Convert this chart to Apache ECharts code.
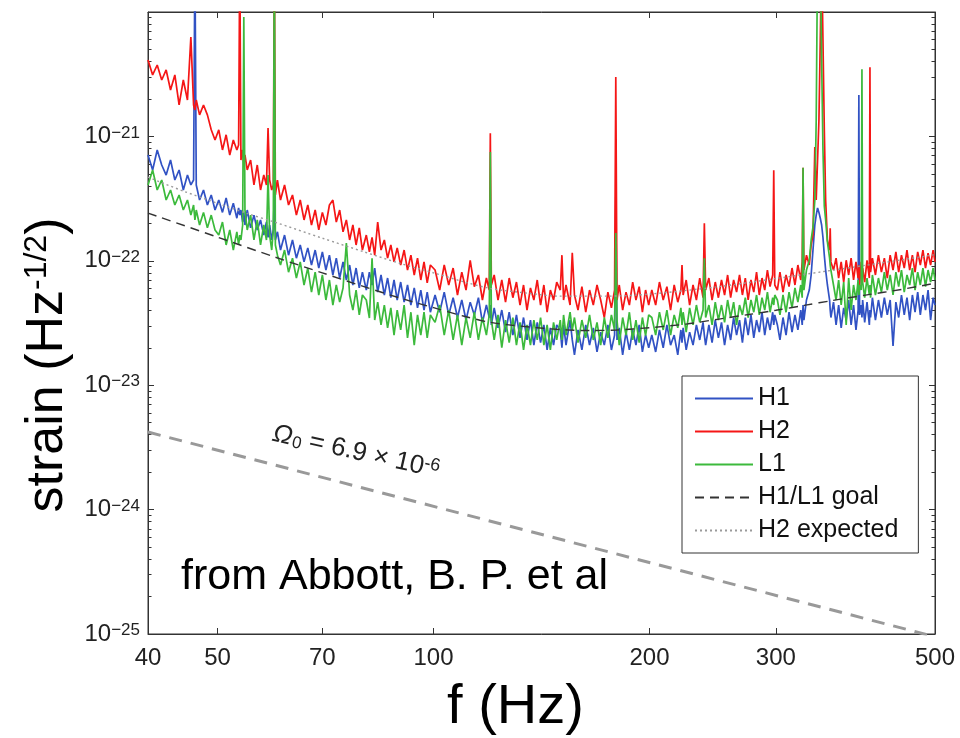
<!DOCTYPE html>
<html><head><meta charset="utf-8">
<script src="https://cdn.jsdelivr.net/npm/echarts@6/dist/echarts.min.js"></script>
<style>html,body{margin:0;padding:0;background:#fff}#c{width:960px;height:738px}</style>
</head><body><div id="c"></div>
<script>
// strain values are given in units of 1e-22 Hz^-1/2
const UNIT = 1e-22;

const FREQ = [
  40.0, 40.6, 41.2, 41.8, 42.4, 43.0, 43.6, 44.2, 44.8, 45.4, 45.9, 46.3, 46.5, 46.7, 47.2, 47.8, 48.4, 49.0, 49.6,
  50.2, 50.8, 51.4, 52.0, 52.6, 53.2, 53.5, 53.7, 53.9, 54.2, 54.4, 54.6, 55.0, 55.6, 56.2, 56.8, 57.4, 58.0, 58.5, 58.8, 59.1, 59.5, 59.8, 60.0, 60.2, 60.6,
  61.2, 62.0, 62.8, 63.6, 64.4, 65.2, 66.0, 66.8, 67.6, 68.4, 69.2, 70.0, 70.8, 71.6, 72.4, 73.2, 74.0, 74.8, 75.6, 76.4, 77.2, 78.0, 78.8, 79.6,
  80.6, 81.4, 82.1, 82.8, 83.6, 84.5, 85.4, 86.3, 87.2, 88.1, 89.0, 90.0, 91.0, 92.0, 93.0, 94.0, 95.0, 96.0, 97.0, 98.0, 99.0,
  100.5, 102, 103.5, 105, 106.5, 108, 109.5, 111, 112.5, 114, 115.5, 117, 118.5, 119.6, 120, 120.4, 121.5, 123, 124.5, 126, 127.5, 129, 130.5, 132, 133.5, 135, 136.5, 138, 139.5, 141, 142.5, 144, 145.5, 147, 148.5,
  150.2, 151.0, 151.8, 153, 155, 156.1, 157.2, 159, 161, 163, 165, 167, 169, 171, 173, 175, 177, 178.8, 179.5, 180.2, 181.5, 183.5, 185.5, 187.5, 189.5, 191.5, 193.5, 195.5, 197.5, 199.5,
  201.5, 204, 206.5, 209, 211.5, 214, 216.5, 219, 221.2, 222, 222.8, 225, 227.5, 230, 232.5, 235, 237.5, 238.5, 239.5, 242, 244.5, 247, 249.5, 252, 254.5, 257, 259.5, 262, 264.5, 267, 269.5, 272, 274.5, 277, 279.5, 282, 284.5, 287, 289.5, 292, 294.5, 297, 298, 299,
  301.5, 304, 307, 310, 313, 316, 319, 322, 325, 326.5, 327.4, 328.3, 331, 334, 336, 338, 340, 341.5, 343, 344.5, 346, 347.5, 349, 350.5, 352, 354, 356.5, 357.2, 358, 361, 364, 367, 370, 373, 376, 379, 382, 385, 388, 390.7, 391.6, 392.5, 394.6, 395.5, 396.4, 399, 402, 405, 405.8, 406.6, 409, 413, 417, 421, 425, 429, 433, 437, 441, 445, 449, 453, 457, 461, 465, 469, 473, 477, 481, 485, 489, 493, 497, 500
];

const H1 = [
  7.09, 5.37, 7.78, 5.89, 4.89, 6.46, 4.46, 5.37, 3.71, 4.89, 4.07, 4.46, 300, 4.07, 3.08, 3.71, 2.81, 3.38, 2.56,
  3.08, 2.45, 3.2, 2.33, 2.9, 2.2, 2.66, 2.33, 2.56, 2.05, 2.45, 1.94, 2.56, 1.84, 2.33, 1.77, 2.13, 1.61, 2.05, 1.54, 1.94, 1.47, 1.77, 3.58, 1.47, 1.71,
  1.22, 1.61, 1.11, 1.47, 1.05, 1.34, 0.98, 1.27, 0.925, 1.22, 0.875, 1.18, 0.843, 1.11, 0.769, 1.05, 0.727, 0.98, 0.701, 0.925, 0.639, 0.875, 0.605, 0.81,
  0.582, 0.81, 0.639, 0.875, 0.56, 0.769, 0.531, 0.727, 0.505, 0.701, 0.484, 0.675, 0.465, 0.639, 0.441, 0.605, 0.418, 0.582, 0.402, 0.56, 0.386,
  0.531, 0.386, 0.56, 0.367, 0.505, 0.35, 0.484, 0.334, 0.465, 0.367, 0.505, 0.32, 0.441, 0.35, 0.441, 0.305, 0.418, 0.289, 0.402, 0.267, 0.386, 0.253, 0.367, 0.24, 0.35, 0.231, 0.334, 0.21, 0.32, 0.22, 0.305, 0.192, 0.289, 0.21, 0.305,
  0.278, 0.2, 0.305, 0.21, 0.334, 0.231, 0.175, 0.278, 0.192, 0.305, 0.21, 0.289, 0.185, 0.267, 0.21, 0.305, 0.192, 0.253, 3.25, 0.231, 0.289, 0.175, 0.267, 0.192, 0.278, 0.21, 0.305, 0.185, 0.253, 0.2,
  0.253, 0.185, 0.278, 0.2, 0.305, 0.21, 0.253, 0.175, 0.278, 0.22, 0.289, 0.192, 0.267, 0.21, 0.305, 0.231, 0.32, 0.253, 0.21, 0.305, 0.22, 0.334, 0.24, 0.32, 0.21, 0.305, 0.231, 0.35, 0.253, 0.334, 0.22, 0.35, 0.253, 0.367, 0.24, 0.334, 0.267, 0.386, 0.253, 0.35, 0.278, 0.386, 0.305, 0.367,
  0.305, 0.231, 0.35, 0.253, 0.386, 0.267, 0.367, 0.278, 0.402, 0.305, 0.441, 0.334, 0.484, 0.582, 0.769, 1.22, 1.94, 2.33, 2.66, 2.45, 2.2, 1.94, 1.54, 1.11, 0.843, 0.639, 0.484, 0.402, 0.35, 0.465, 0.305, 0.441, 0.289, 0.418, 0.334, 0.484, 0.305, 0.441, 0.278, 0.402, 21.5, 0.367, 0.441, 0.35, 0.484, 0.32, 0.465, 0.305, 0.402, 0.35, 0.505, 0.334, 0.484, 0.35, 0.505, 0.367, 0.484, 0.207, 0.465, 0.35, 0.531, 0.367, 0.505, 0.334, 0.531, 0.386, 0.56, 0.367, 0.531, 0.402, 0.582, 0.334, 0.505, 0.441
];

const H2 = [
  41.1, 31.2, 37.5, 28.4, 34.2, 23.6, 31.2, 17.9, 28.4, 19.6, 63, 17.9, 16.3, 19.6, 14.9, 17.9, 14.9, 11.3, 9.36,
  11.3, 7.78, 10.3, 7.09, 9.36, 7.78, 8.53, 300, 6.46, 7.78, 5.89, 7.09, 5.37, 6.46, 4.07, 5.89, 3.71, 4.89, 4.07, 11.7, 4.46, 3.71, 4.07, 300, 3.38, 4.46,
  3.08, 4.07, 2.81, 3.38, 2.33, 3.08, 2.13, 2.81, 1.94, 2.56, 1.77, 2.45, 1.94, 2.81, 3.08, 2.05, 2.56, 1.71, 2.13, 1.47, 1.94, 1.34, 1.84, 1.22,
  1.61, 1.18, 1.54, 1.11, 2.05, 1.22, 1.47, 1.05, 1.34, 0.98, 1.27, 0.925, 1.22, 0.843, 1.11, 0.769, 1.05, 0.701, 0.98, 0.664, 0.925,
  0.843, 0.582, 0.925, 0.639, 0.875, 0.531, 0.81, 0.582, 1.01, 0.62, 0.769, 0.484, 0.727, 0.582, 10.6, 0.639, 0.769, 0.484, 0.701, 0.465, 0.727, 0.505, 0.675, 0.441, 0.639, 0.402, 0.605, 0.484, 0.701, 0.441, 0.639, 0.386, 0.582, 0.484, 0.675,
  0.582, 1.11, 0.484, 0.639, 0.441, 1.16, 0.531, 0.402, 0.62, 0.386, 0.582, 0.441, 0.639, 0.484, 0.35, 0.56, 0.418, 0.582, 30, 0.484, 0.639, 0.402, 0.56, 0.441, 0.675, 0.484, 0.62, 0.386, 0.582, 0.441,
  0.582, 0.441, 0.675, 0.484, 0.62, 0.402, 0.639, 0.465, 0.582, 0.925, 0.531, 0.701, 0.441, 0.639, 0.484, 0.727, 0.505, 2.0, 0.582, 0.727, 0.484, 0.675, 0.505, 0.701, 0.531, 0.769, 0.505, 0.701, 0.56, 0.769, 0.531, 0.727, 0.484, 0.701, 0.56, 0.81, 0.531, 0.727, 0.582, 0.843, 0.62, 0.769, 5.35, 0.639,
  0.582, 0.81, 0.56, 0.769, 0.62, 0.875, 0.639, 0.925, 0.701, 0.98, 5.6, 0.843, 1.11, 0.925, 1.34, 1.61, 8.2, 3.08, 6.46, 13.5, 59.5, 300, 300, 11.3, 3.08, 1.47, 1.22, 1.83, 0.98, 0.843, 1.05, 0.727, 0.98, 0.675, 1.01, 0.769, 1.05, 0.701, 0.98, 0.727, 0.925, 0.639, 0.98, 0.769, 0.875, 0.675, 1.01, 0.727, 36, 0.81, 1.05, 0.769, 1.11, 0.81, 1.05, 0.727, 1.11, 0.843, 1.18, 0.81, 1.11, 0.875, 1.22, 0.843, 1.11, 0.81, 1.18, 0.925, 1.22, 0.875, 1.15, 0.925, 1.22, 0.98
];

const L1 = [
  4.07, 5.37, 3.71, 4.46, 3.08, 3.71, 2.81, 3.38, 2.56, 3.08, 2.33, 2.81, 2.13, 2.56, 1.94, 2.45, 1.84, 2.33, 1.77,
  1.61, 2.05, 1.34, 1.77, 1.22, 1.71, 1.34, 1.61, 1.47, 1.94, 91, 2.56, 1.77, 2.33, 1.47, 2.13, 1.34, 1.94, 1.47, 4.89, 1.61, 1.22, 1.77, 300, 1.34, 1.11,
  0.925, 1.22, 0.81, 1.05, 0.727, 0.98, 0.639, 0.875, 0.56, 0.81, 0.531, 0.769, 0.484, 0.701, 0.441, 0.639, 0.465, 0.605, 1.39, 0.531, 0.402, 0.582, 0.367, 0.531,
  0.484, 0.347, 1.05, 0.334, 0.465, 0.305, 0.441, 0.289, 0.418, 0.253, 0.402, 0.278, 0.441, 0.24, 0.386, 0.21, 0.367, 0.253, 0.386, 0.24, 0.367,
  0.32, 0.441, 0.253, 0.402, 0.231, 0.367, 0.21, 0.35, 0.24, 0.386, 0.231, 0.35, 0.253, 0.367, 7.5, 0.334, 0.231, 0.367, 0.2, 0.334, 0.22, 0.35, 0.21, 0.32, 0.192, 0.305, 0.21, 0.334, 0.231, 0.35, 0.21, 0.305, 0.192, 0.32, 0.231,
  0.334, 0.231, 0.367, 0.253, 0.386, 0.278, 0.35, 0.22, 0.334, 0.24, 0.367, 0.231, 0.32, 0.21, 0.35, 0.24, 0.367, 0.278, 1.67, 0.334, 0.21, 0.35, 0.253, 0.386, 0.231, 0.334, 0.22, 0.35, 0.25, 0.367,
  0.35, 0.253, 0.386, 0.278, 0.402, 0.253, 0.367, 0.289, 0.418, 0.305, 0.386, 0.267, 0.418, 0.305, 0.441, 0.32, 0.402, 1.05, 0.35, 0.441, 0.305, 0.465, 0.334, 0.441, 0.32, 0.484, 0.35, 0.465, 0.305, 0.441, 0.367, 0.505, 0.35, 0.484, 0.386, 0.531, 0.367, 0.505, 0.402, 0.56, 0.386, 0.505, 0.441, 0.531,
  0.484, 0.367, 0.531, 0.386, 0.56, 0.418, 0.605, 0.465, 0.639, 0.505, 5.6, 0.582, 0.843, 1.01, 1.47, 1.87, 3.08, 13.5, 300, 300, 300, 41.1, 7.78, 2.75, 2.13, 1.42, 1.05, 0.925, 0.843, 0.639, 0.484, 0.701, 0.441, 0.675, 0.305, 0.727, 0.402, 0.639, 0.484, 0.701, 0.531, 0.639, 0.582, 34.6, 0.675, 0.505, 0.727, 0.531, 0.639, 0.505, 0.769, 0.531, 0.727, 0.56, 0.81, 0.582, 0.769, 0.531, 0.81, 0.62, 0.843, 0.56, 0.769, 0.639, 0.875, 0.582, 0.81, 0.639, 0.875, 0.62, 0.843, 0.675, 0.875, 0.701
];

const GOAL_FREQ = [40, 50, 60, 70, 80, 90, 100, 110, 120, 135, 150, 165, 180, 200, 225, 250, 275, 300, 330, 360, 400, 450, 500];
const GOAL      = [2.42, 1.55, 1.075, 0.80, 0.62, 0.50, 0.42, 0.36, 0.32, 0.295, 0.28, 0.275, 0.278, 0.29, 0.31, 0.34, 0.37, 0.40, 0.44, 0.48, 0.53, 0.59, 0.66];

const H2EXP_FREQ = [40, 45, 50, 55, 60, 70, 80, 90, 100, 110, 120, 135, 150, 175, 200, 250, 300, 350, 400, 450, 500];
const H2EXP      = [4.7, 3.6, 2.9, 2.4, 2.05, 1.52, 1.18, 0.95, 0.80, 0.68, 0.60, 0.55, 0.52, 0.52, 0.54, 0.62, 0.72, 0.82, 0.92, 1.02, 1.12];

const OMEGA_FREQ = [40, 500];
const OMEGA      = [0.042, 0.00095];

const X_TICK_LABELS = [40, 50, 70, 100, 200, 300, 500];
const X_MAJOR_TICKS = [50, 70, 100, 200, 300];
const Y_DECADES = [-25, -24, -23, -22, -21, -20];

const FONT = "'Liberation Sans', Arial, Helvetica, sans-serif";

const lg = Math.log10;
const pts = (fs, vs) => fs.map((f, i) => [lg(f), lg(vs[i] * UNIT)]);

const yMinor = [];
for (let n = -25; n < -20; n++) for (let k = 2; k <= 9; k++) yMinor.push(n + lg(k));

const xMin = lg(40), xMax = lg(500);

function yAxisBase(pos, extra) {
  return Object.assign({
    type: 'value', position: pos, min: -25, max: -20,
    splitLine: { show: false },
    axisLine: { show: false },
    axisLabel: { show: false },
    axisTick: { show: true, inside: true, length: 6, lineStyle: { color: '#333', width: 1 } }
  }, extra);
}

const chart = echarts.init(document.getElementById('c'), null, { renderer: 'canvas' });

const lineSeries = (name, fs, vs, color, width, extra) => Object.assign({
  name, type: 'line', data: pts(fs, vs), xAxisIndex: 0, yAxisIndex: 0,
  symbol: 'none', showSymbol: false, clip: true, animation: false,
  lineStyle: { color, width }, itemStyle: { color }
}, extra || {});

chart.setOption({
  animation: false,
  backgroundColor: '#fff',
  grid: { left: 148, right: 25, top: 12, bottom: 104, outerBoundsMode: 'none', containLabel: false, show: true, borderColor: '#333', borderWidth: 1, backgroundColor: 'transparent' },
  xAxis: [
    {
      type: 'value', position: 'bottom', min: xMin, max: xMax,
      splitLine: { show: false },
      axisLine: { show: true, lineStyle: { color: '#333', width: 1 } },
      axisTick: { show: true, inside: true, length: 6, customValues: X_MAJOR_TICKS.map(lg), lineStyle: { color: '#333' } },
      axisLabel: { customValues: X_TICK_LABELS.map(lg), formatter: v => String(Math.round(Math.pow(10, v))), fontSize: 24, color: '#222', margin: 12, fontFamily: FONT },
      name: 'f (Hz)', nameLocation: 'middle', nameGap: 46,
      nameTextStyle: { fontSize: 56, color: '#000', fontFamily: FONT, padding: [0, 52, 0, 0] }
    },
    {
      type: 'value', position: 'top', min: xMin, max: xMax,
      splitLine: { show: false },
      axisLine: { show: true, lineStyle: { color: '#333', width: 1 } },
      axisTick: { show: true, inside: true, length: 6, customValues: X_MAJOR_TICKS.map(lg), lineStyle: { color: '#333' } },
      axisLabel: { show: false }
    }
  ],
  yAxis: [
    yAxisBase('left', {
      interval: 1,
      axisLine: { show: true, lineStyle: { color: '#333', width: 1 } },
      axisLabel: {
        show: true, margin: 8, fontFamily: FONT, showMaxLabel: false,
        formatter: v => '{b|10}{s|\u2212' + Math.abs(Math.round(v)) + '}',
        rich: {
          b: { fontSize: 24, color: '#222', fontFamily: FONT, verticalAlign: 'bottom' },
          s: { fontSize: 17, color: '#222', fontFamily: FONT, verticalAlign: 'top' }
        }
      },
      name: 'strain (Hz{s|-1/2})', nameLocation: 'middle', nameGap: 70,
      nameTextStyle: {
        fontSize: 52, color: '#000', fontFamily: FONT, padding: [0, 84, 0, 0],
        rich: { s: { fontSize: 32, color: '#000', fontFamily: FONT, verticalAlign: 'top' } }
      }
    }),
    yAxisBase('left', { axisTick: { show: true, inside: true, length: 3.5, customValues: yMinor, lineStyle: { color: '#333' } } }),
    yAxisBase('right', { interval: 1, axisLine: { show: true, lineStyle: { color: '#333', width: 1 } } }),
    yAxisBase('right', { axisTick: { show: true, inside: true, length: 3.5, customValues: yMinor, lineStyle: { color: '#333' } } })
  ],
  legend: {
    data: ['H1', 'H2', 'L1', 'H1/L1 goal', 'H2 expected'],
    orient: 'vertical', left: 682, top: 376,
    backgroundColor: '#fff', borderColor: '#333', borderWidth: 1, borderRadius: 0,
    padding: [10, 20, 10, 12], itemGap: 8, itemWidth: 58, itemHeight: 25,
    itemStyle: { opacity: 0, color: 'transparent', borderWidth: 0 },
    textStyle: { fontSize: 25, color: '#111', fontFamily: FONT },
    selectedMode: false
  },
  graphic: [
    {
      type: 'text', x: 356, y: 452, rotation: -0.22,
      style: {
        text: '{o|\u03A9}{sub|0}{n| = 6.9 \u00D7 10}{sup|-6}',
        align: 'center', verticalAlign: 'middle',
        rich: {
          o: { fontSize: 26, fontStyle: 'italic', fill: '#222', fontFamily: FONT },
          sub: { fontSize: 17, fill: '#222', fontFamily: FONT, verticalAlign: 'bottom', padding: [0, 0, 0, 1] },
          n: { fontSize: 26, fill: '#222', fontFamily: FONT },
          sup: { fontSize: 18, fill: '#222', fontFamily: FONT, verticalAlign: 'top' }
        }
      },
      z: 20
    },
    {
      type: 'text', x: 181, y: 577,
      style: { text: 'from Abbott, B. P. et al', fontSize: 43, fill: '#000', fontFamily: FONT, align: 'left', verticalAlign: 'middle' },
      z: 20
    }
  ],
  series: [
    lineSeries('\u03A90', OMEGA_FREQ, OMEGA, '#999', 3, { lineStyle: { color: '#999', width: 3, type: [13, 9] }, legendHoverLink: false }),
    lineSeries('H1', FREQ, H1, '#3152c4', 1.7),
    lineSeries('H2', FREQ, H2, '#f51616', 1.7),
    lineSeries('L1', FREQ, L1, '#3cba3c', 1.7),
    lineSeries('H1/L1 goal', GOAL_FREQ, GOAL, '#333', 1.4, { lineStyle: { color: '#333', width: 1.4, type: [9, 6] }, smooth: 0.3 }),
    lineSeries('H2 expected', H2EXP_FREQ, H2EXP, '#9a9a9a', 1.4, { lineStyle: { color: '#9a9a9a', width: 1.4, type: [2, 3] }, smooth: 0.3 })
  ]
});
</script>
</body></html>
